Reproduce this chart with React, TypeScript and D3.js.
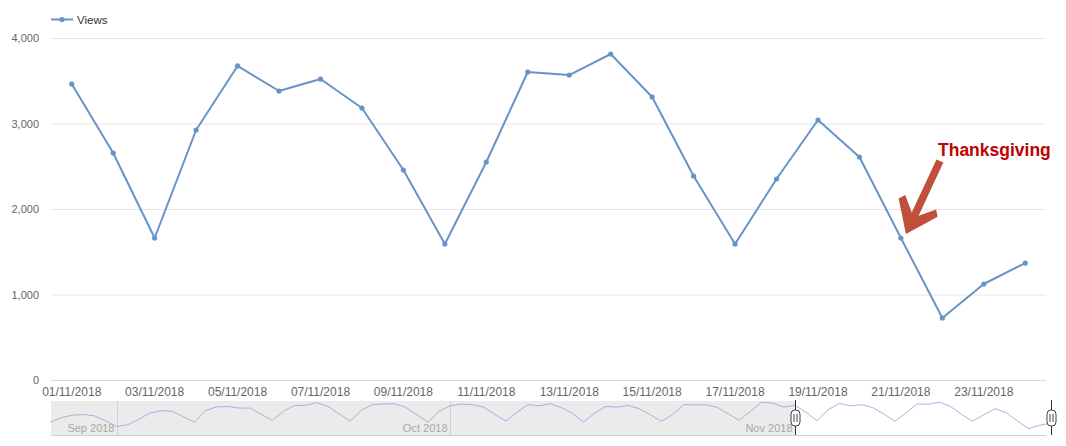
import React from "react";
import * as d3 from "d3";

const days: string[] = [
  "01/11/2018","02/11/2018","03/11/2018","04/11/2018","05/11/2018","06/11/2018",
  "07/11/2018","08/11/2018","09/11/2018","10/11/2018","11/11/2018","12/11/2018",
  "13/11/2018","14/11/2018","15/11/2018","16/11/2018","17/11/2018","18/11/2018",
  "19/11/2018","20/11/2018","21/11/2018","22/11/2018","23/11/2018","24/11/2018",
];
const views: number[] = [
  3462, 2655, 1661, 2924, 3673, 3380, 3520, 3181, 2456, 1591, 2550, 3602,
  3567, 3813, 3310, 2386, 1591, 2351, 3041, 2608, 1661, 725, 1123, 1368,
];
const xTickLabels: string[] = [
  "01/11/2018","03/11/2018","05/11/2018","07/11/2018","09/11/2018","11/11/2018",
  "13/11/2018","15/11/2018","17/11/2018","19/11/2018","21/11/2018","23/11/2018",
];
const yTicks: number[] = [0, 1000, 2000, 3000, 4000];

// Navigator history (26 Aug 2018 – 31 Oct 2018), followed by the November views
const navStart = "2018-08-26";
const navHistory: number[] = [
  1490, 2000, 2290, 2370, 2230, 1660,
  970, 1200, 1830, 2550, 2820, 2740, 2110, 1490, 2860, 3250, 3310, 3120, 3120, 2400, 1680,
  2740, 3430, 3430, 3740, 3310, 2460, 1600, 2860, 3510, 3600, 3620, 3230, 2340, 1490, 2740,
  3390, 3580, 3510, 3230, 2400, 1600, 2630, 3510, 3390, 3620, 3180, 2510, 1490, 2550, 3310,
  3230, 3430, 3050, 2340, 1600, 2370, 3510, 3510, 3510, 3230, 2450, 1710, 2740, 3810, 3690,
  3230,
];
const navMonthTicks: { date: string; label: string }[] = [
  { date: "2018-09-01", label: "Sep 2018" },
  { date: "2018-10-01", label: "Oct 2018" },
  { date: "2018-11-01", label: "Nov 2018" },
];
const selectionStart = "2018-11-01";
const selectionEnd = "2018-11-24";
const annotationText = "Thanksgiving";
const annotationIndex = 20;

const FONT = "'Liberation Sans', Arial, sans-serif";
const LINE = "#6893c8";

export default function App() {
  const W = 1066, H = 446;
  const left = 51, right = 1046, top = 38, bottom = 380;

  const x = d3.scalePoint<string>().domain(days).range([left, right]).padding(0.5);
  const y = d3.scaleLinear().domain([0, 4000]).range([bottom, top]);
  const line = d3.line<number>().x((_, i) => x(days[i])!).y((d) => y(d));

  const parse = d3.timeParse("%Y-%m-%d");
  const navAll = navHistory.concat(views);
  const t0 = parse(navStart)!;
  const navDates = navAll.map((_, i) => d3.timeDay.offset(t0, i));
  const nx = d3.scaleTime().domain([t0, navDates[navDates.length - 1]]).range([50, 1050.5]);
  const nTop = 401, nBot = 435;
  const ny = d3.scaleLinear().domain([0, 4000]).range([nBot, nTop - 0.5]);
  const navLine = d3.line<number>().x((_, i) => nx(navDates[i])).y((d) => ny(d));
  const selX0 = nx(parse(selectionStart)!);
  const selX1 = nx(parse(selectionEnd)!);

  // annotation arrow
  const ax = x(days[annotationIndex])!;
  const ay = y(views[annotationIndex]);
  const tip: [number, number] = [ax + 5, ay - 4];
  const tail: [number, number] = [tip[0] + 34, tip[1] - 73];
  const dx = tail[0] - tip[0], dy = tail[1] - tip[1];
  const len = Math.hypot(dx, dy);
  const ux = dx / len, uy = dy / len; // from tip toward tail
  const px = -uy, py = ux;
  const sw = 3.8, headLen = 35, headW = 17, notch = 13;
  const P = (a: number, b: number): string => `${tip[0] + ux * a + px * b},${tip[1] + uy * a + py * b}`;
  const arrowPts = [
    P(len, sw), P(headLen - notch, sw), P(headLen, headW), P(headLen - 6, headW + 4.5), P(0, 0),
    P(headLen - 6, -headW - 4.5), P(headLen, -headW), P(headLen - notch, -sw), P(len, -sw),
  ].join(" ");

  const handle = (hx: number) => (
    <g key={hx}>
      <line x1={hx} x2={hx} y1={nTop - 1} y2={nBot} stroke="#333" strokeWidth={1} />
      <rect x={hx - 4.5} y={410} width={9} height={16} rx={4} ry={4} fill="#fff" stroke="#444" strokeWidth={1} />
      <line x1={hx - 1.5} x2={hx - 1.5} y1={414} y2={422} stroke="#444" strokeWidth={1} />
      <line x1={hx + 1.5} x2={hx + 1.5} y1={414} y2={422} stroke="#444" strokeWidth={1} />
    </g>
  );

  return (
    <svg width={W} height={H} style={{ position: "absolute", left: 0, top: 0, background: "#fff" }} fontFamily={FONT}>
      {/* legend */}
      <g>
        <line x1={51} x2={73} y1={19.5} y2={19.5} stroke={LINE} strokeWidth={2} />
        <circle cx={62} cy={19.5} r={2.6} fill={LINE} />
        <text x={77} y={23.5} fontSize={11.5} fill="#333">Views</text>
      </g>

      {/* grid */}
      {yTicks.map((t) => (
        <g key={t}>
          {t > 0 && <line x1={left} x2={right} y1={y(t) + 0.5} y2={y(t) + 0.5} stroke="#e6e6e6" strokeWidth={1} />}
          <text x={39} y={y(t) + 4} fontSize={11} fill="#666" textAnchor="end">{d3.format(",")(t)}</text>
        </g>
      ))}
      <line x1={left} x2={right} y1={bottom + 0.5} y2={bottom + 0.5} stroke="#d8d8d8" strokeWidth={1} />

      {/* x labels */}
      {xTickLabels.map((l) => (
        <text key={l} x={x(l)!} y={395.5} fontSize={12} fill="#666" textAnchor="middle">{l}</text>
      ))}

      {/* series */}
      <path d={line(views)!} fill="none" stroke={LINE} strokeWidth={2} strokeLinejoin="round" />
      {views.map((v, i) => (
        <circle key={i} cx={x(days[i])!} cy={y(v)} r={2.6} fill={LINE} />
      ))}

      {/* annotation */}
      <polygon points={arrowPts} fill="#c0503c" />
      <text x={938} y={155.5} fontSize={17.5} fontWeight="bold" fill="#c00000">{annotationText}</text>

      {/* navigator */}
      <rect x={left} y={nTop} width={selX0 - left} height={nBot - nTop} fill="#ebebeb" />
      {navMonthTicks.map((m) => {
        const mx = Math.round(nx(parse(m.date)!)) + 0.5;
        return (
          <g key={m.label}>
            <line x1={mx} x2={mx} y1={nTop} y2={nBot} stroke="#d2d2d2" strokeWidth={1} />
            <text x={mx - 3} y={432} fontSize={11} fill="#a8a8a8" textAnchor="end">{m.label}</text>
          </g>
        );
      })}
      <path d={navLine(navAll)!} fill="none" stroke="#9cb8dc" strokeWidth={1} />
      <line x1={left} x2={right} y1={nBot + 0.5} y2={nBot + 0.5} stroke="#d0d0d0" strokeWidth={1} />
      {handle(Math.round(selX0) + 0.5)}
      {handle(Math.round(selX1) + 0.5)}
    </svg>
  );
}
